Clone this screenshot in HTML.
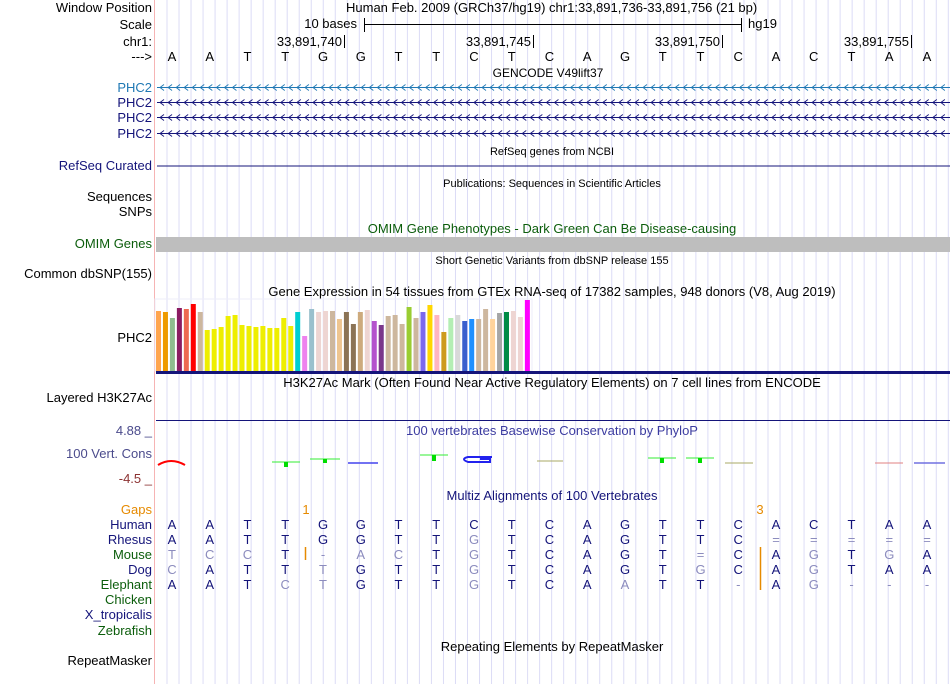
<!DOCTYPE html>
<html><head><meta charset="utf-8">
<style>
body{margin:0;background:#fff;width:950px;height:684px;overflow:hidden;font-family:"Liberation Sans",sans-serif;}
svg{display:block}
text{font-family:"Liberation Sans",sans-serif}
</style></head>
<body>
<svg id="c" width="950" height="684" font-size="13"></svg>
<script>
const bases=["A","A","T","T","G","G","T","T","C","T","C","A","G","T","T","C","A","C","T","A","A"];
const rhesus="AATTGGTTGTCAGTTC=====".split("");
const mouse="TCCT-ACTGTCAGT=CAGTGA".split("");
const dog="CATTTGTTGTCAGTGCAGTAA".split("");
const elephant="AATCTGTTGTCAATT-AG---".split("");
const gtexValues=[60,59,53,63,62,67,59,41,42,44,55,56,46,45,44,45,43,43,53,45,59,35,62,59,60,60,52,59,47,59,61,50,46,55,56,47,64,53,59,66,56,39,53,56,50,52,52,62,52,58,59,60,54,71];
const gtexColors=["#FFA54F","#EE9A00","#8FBC8F","#8B1C62","#EE6A50","#FF0000","#CDB79E","#EEEE00","#EEEE00","#EEEE00","#EEEE00","#EEEE00","#EEEE00","#EEEE00","#EEEE00","#EEEE00","#EEEE00","#EEEE00","#EEEE00","#EEEE00","#00CED1","#EE82EE","#9AC0CD","#EED5D2","#EED5D2","#CDB79E","#EEC591","#8B7355","#8B7355","#CDAA7D","#EED5D2","#B452CD","#7A378B","#CDB79E","#CDB79E","#CDB79E","#9ACD32","#CDB79E","#7B68EE","#FFD700","#FFB6C1","#CD9B1D","#B4EEB4","#D9D9D9","#3A5FCD","#1E90FF","#CDB79E","#CDB79E","#FFD39B","#A6A6A6","#008B45","#EED5D2","#EED5D2","#FF00FF"];
const svg=document.getElementById('c');
const NS="http://www.w3.org/2000/svg";
function el(t,a,txt){const e=document.createElementNS(NS,t);for(const k in a)e.setAttribute(k,a[k]);if(txt!==undefined)e.textContent=txt;svg.appendChild(e);return e;}
const bx=i=>172+37.75*i;
for(let x=167;x<950;x+=12.02){const g=el('line',{x1:x,x2:x,y1:0,y2:684,stroke:'#dcdcf6','stroke-width':1});

}
const pink=el('line',{x1:154.5,x2:154.5,y1:0,y2:684,stroke:'#f6b4b4','stroke-width':1});


function lab(y,t,c,name){const e=el('text',{x:152,y:y,'text-anchor':'end',fill:c||'#000'},t);

return e;}
function title(y,t,c,name,fs,cx){const e=el('text',{x:cx||552,y:y,'text-anchor':'middle',fill:c||'#000',style:'font-size:'+(fs||13)+'px'},t);

return e;}
lab(12,'Window Position','#000','window-position-label');
lab(29,'Scale','#000','scale-label');
lab(46,'chr1:','#000','chr-label');
lab(61,'--->','#000','strand-label');
let t=el('text',{x:346,y:12},'Human Feb. 2009 (GRCh37/hg19)   chr1:33,891,736-33,891,756 (21 bp)');


t=el('text',{x:357,y:28,'text-anchor':'end'},'10 bases');


el('line',{x1:364.5,x2:364.5,y1:18,y2:32,stroke:'#000'});
el('line',{x1:364,x2:741,y1:24.5,y2:24.5,stroke:'#000'});
el('line',{x1:741.5,x2:741.5,y1:18,y2:32,stroke:'#000'});
t=el('text',{x:748,y:28},'hg19');


[[344,'33,891,740'],[533,'33,891,745'],[722,'33,891,750'],[911,'33,891,755']].forEach(p=>{
t=el('text',{x:p[0]-2,y:46,'text-anchor':'end'},p[1]);


el('line',{x1:p[0]+.5,x2:p[0]+.5,y1:35,y2:48,stroke:'#000'});});
bases.forEach((b,i)=>{t=el('text',{x:bx(i),y:61,'text-anchor':'middle'},b);

});
title(77,'GENCODE V49lift37','#000','gencode-title',12,548);
[[92,'#1f78b4'],[107,'#14147a'],[122,'#14147a'],[138,'#14147a']].forEach((r,k)=>{
lab(r[0],'PHC2',r[1],'gencode-transcript-label');
const y=r[0]-4.5;
const l=el('line',{x1:157,x2:950,y1:y,y2:y,stroke:r[1]});


let d='';for(let x=160;x<948;x+=8.05){d+=`M${x+4},${y-3}L${x},${y}L${x+4},${y+3}`;}
el('path',{d:d,stroke:r[1],fill:'none','stroke-width':0.9});});
title(155,'RefSeq genes from NCBI','#000','refseq-title',11);
lab(170,'RefSeq Curated','#14147a','refseq-label');
t=el('line',{x1:157,x2:950,y1:166,y2:166,stroke:'#14147a'});


title(187,'Publications: Sequences in Scientific Articles','#000','publications-title',11);
lab(201,'Sequences','#000','sequences-label');
lab(216,'SNPs','#000','snps-label');
title(233,'OMIM Gene Phenotypes - Dark Green Can Be Disease-causing','#0b5d0b','omim-title');
lab(248,'OMIM Genes','#0b5d0b','omim-label');
t=el('rect',{x:156,y:237,width:794,height:15,fill:'#bebebe'});


title(264,'Short Genetic Variants from dbSNP release 155','#000','dbsnp-title',11);
lab(278,'Common dbSNP(155)','#000','dbsnp-label');
title(296,'Gene Expression in 54 tissues from GTEx RNA-seq of 17382 samples, 948 donors (V8, Aug 2019)','#000','gtex-title');
lab(342,'PHC2','#000','gtex-gene-label');
const base=371, pitch=6.96, scale=1.0;
el('rect',{x:155,y:299,width:377,height:72,fill:'none',stroke:'#eeeefa'});
gtexValues.forEach((v,i)=>{const h=v*scale;
const r=el('rect',{x:156+pitch*i,y:base-h,width:5,height:h,fill:gtexColors[i]});

});
t=el('rect',{x:156,y:371,width:794,height:3,fill:'#14147a'});


title(387,'H3K27Ac Mark (Often Found Near Active Regulatory Elements) on 7 cell lines from ENCODE','#000','h3k27ac-title');
lab(402,'Layered H3K27Ac','#000','h3k27ac-label');
el('line',{x1:156,x2:950,y1:420.5,y2:420.5,stroke:'#14147a'});
lab(435,'4.88 _','#4b4b8c','cons-max-label');
lab(458,'100 Vert. Cons','#4b4b8c','cons-label');
lab(483,'-4.5 _','#8c3232','cons-min-label');
title(435,'100 vertebrates Basewise Conservation by PhyloP','#3c3ca0','phylop-title');
el('path',{d:'M158,465 Q171,457 185,465',stroke:'#f00',fill:'none','stroke-width':2});
[[272,300,462,3],[310,340,459,2],[420,448,455,4],[648,676,458,3],[686,714,458,3]].forEach(g=>{
el('line',{x1:g[0],x2:g[1],y1:g[2],y2:g[2],stroke:'#33ee33'});
el('rect',{x:(g[0]+g[1])/2-2,y:g[2],width:4,height:g[3]+2,fill:'#00dd00'});});
el('line',{x1:348,x2:378,y1:463,y2:463,stroke:'#4444ee','stroke-width':1.5});
el('path',{d:'M492,457 H468 Q460,459 468,462 H490 V459 H480',stroke:'#2222ee',fill:'none','stroke-width':2});
el('line',{x1:537,x2:563,y1:461,y2:461,stroke:'#aaaa66'});
el('line',{x1:725,x2:753,y1:463,y2:463,stroke:'#aaaa66'});
el('line',{x1:875,x2:903,y1:463,y2:463,stroke:'#e08080'});
el('line',{x1:914,x2:945,y1:463,y2:463,stroke:'#7070e0','stroke-width':1.5});
title(500,'Multiz Alignments of 100 Vertebrates','#14147a','multiz-title');
lab(514,'Gaps','#e68a00','gaps-label');
t=el('text',{x:306,y:514,'text-anchor':'middle',fill:'#e68a00'},'1');


t=el('text',{x:760,y:514,'text-anchor':'middle',fill:'#e68a00'},'3');


const rows=[['Human',bases,529,'#14147a'],['Rhesus',rhesus,544,'#14147a'],['Mouse',mouse,559,'#0b5d0b'],['Dog',dog,574,'#14147a'],['Elephant',elephant,589,'#0b5d0b']];
rows.forEach(r=>{lab(r[2],r[0],r[3],'species-label');
r[1].forEach((b,i)=>{const same=b===bases[i];
const e=el('text',{x:bx(i),y:r[2],'text-anchor':'middle',fill:same?'#14147a':'#8c8cbe'},b);

});});
el('line',{x1:305.5,x2:305.5,y1:547,y2:560,stroke:'#e68a00','stroke-width':1.5});
el('line',{x1:760.5,x2:760.5,y1:547,y2:590,stroke:'#e68a00','stroke-width':1.5});
lab(604,'Chicken','#0b5d0b','species-label');
lab(619,'X_tropicalis','#14147a','species-label');
lab(635,'Zebrafish','#0b5d0b','species-label');
title(651,'Repeating Elements by RepeatMasker','#000','repeatmasker-title');
lab(665,'RepeatMasker','#000','repeatmasker-label');
</script>
</body></html>
